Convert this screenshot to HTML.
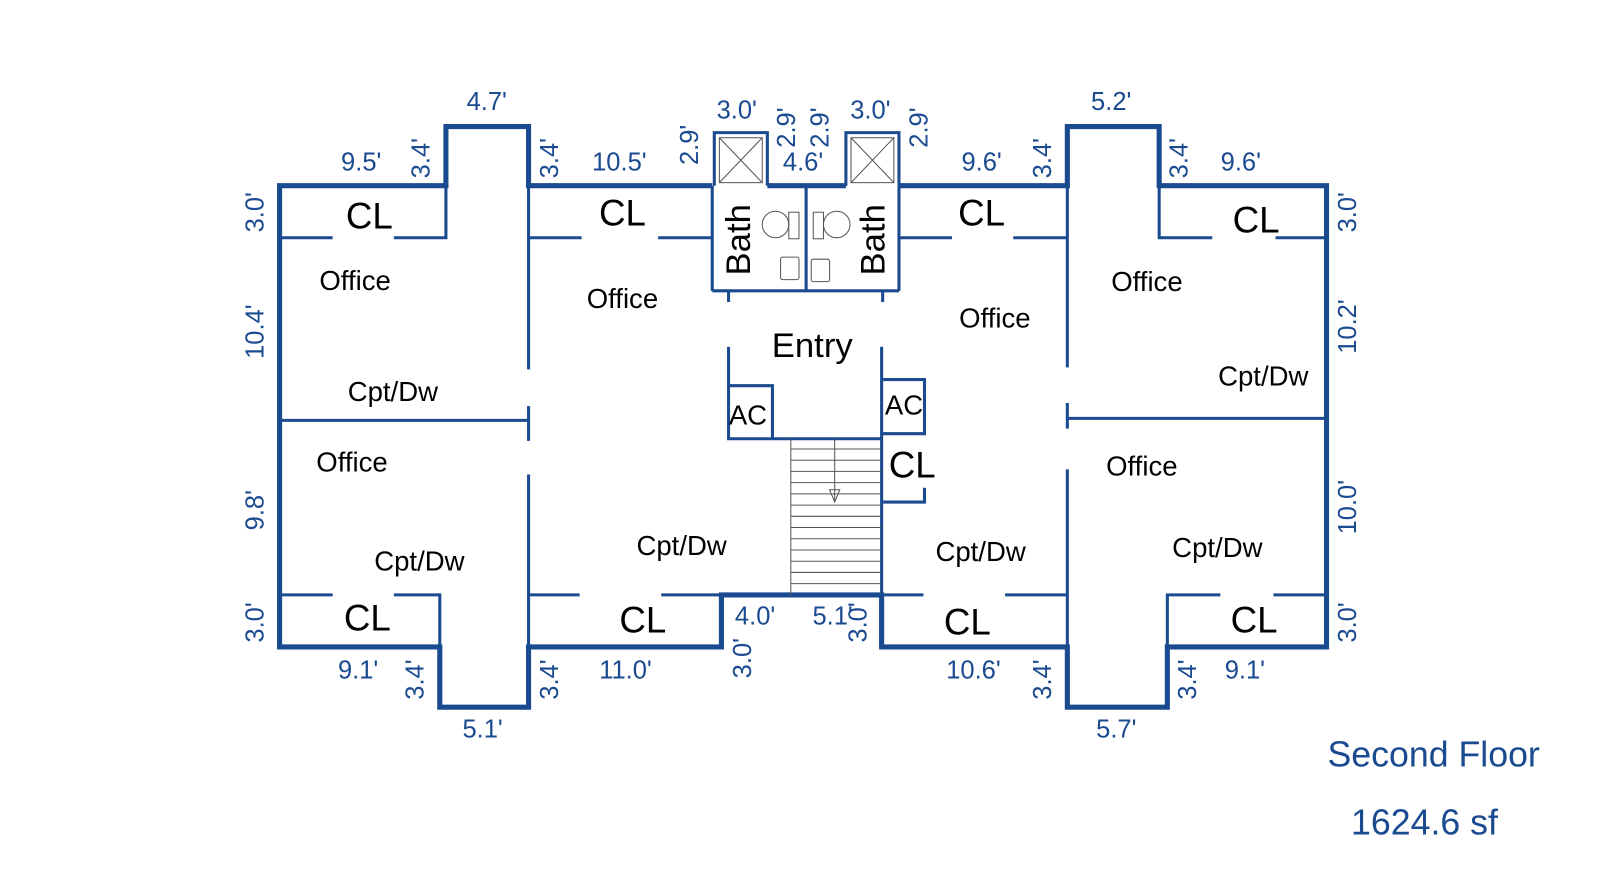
<!DOCTYPE html>
<html><head><style>body{margin:0;background:#fff}svg{display:block}</style></head><body>
<svg width="1600" height="886" viewBox="0 0 1600 886" xmlns="http://www.w3.org/2000/svg" font-family="Liberation Sans, sans-serif">
<g transform="scale(1.0204)">
<g fill="none" stroke="#1a4a8f" stroke-linejoin="miter">
<path stroke-width="5" d="M881,182 H1046 V124 H1136 V182 H1300 V634 H1144 V693 H1046 V634 H864 V583 H707 V634 H518 V693 H431 V634 H274 V182 H437 V124 H518 V182 H698 M752,182 H829"/>
<g stroke-width="3">
<path d="M274,233 H326 M386,233 H437 V182"/>
<path d="M518,182 V362 M518,398 V432 M518,465 V634"/>
<path d="M274,412 H518"/>
<path d="M274,583 H326 M386,583 H431 V634"/>
<path d="M518,233 H570 M645,233 H698"/>
<path d="M518,583 H568 M648,583 H707"/>
<path d="M698,182 V285 M790,182 V285 M881,182 V285 M698,285 H881 M714,285 V296 M865,285 V296"/>
<path d="M714,340 V430 H864 M714,378 H757 V430"/>
<path d="M864,340 V583 M864,372 H906 V425 H864 M864,492 H906 V478"/>
<path d="M881,233 H933 M993,233 H1046"/>
<path d="M1046,182 V360 M1046,395 V420 M1046,460 V634"/>
<path d="M1136,182 V233 H1188 M1250,233 H1300"/>
<path d="M1046,410 H1300"/>
<path d="M864,583 H905 M985,583 H1046"/>
<path d="M1144,634 V583 H1196 M1248,583 H1300"/>
<path d="M700,182 V130 H752 V182 M829,182 V130 H881 V182"/>
</g>
</g>
<g stroke="#555" stroke-width="1" fill="none">
<rect x="705" y="135" width="42" height="44"/><path d="M705,135 L747,179 M747,135 L705,179"/>
<rect x="834" y="135" width="42" height="44"/><path d="M834,135 L876,179 M876,135 L834,179"/>
<circle cx="760" cy="220" r="13"/><rect x="773" y="208" width="10" height="26"/>
<circle cx="820" cy="220" r="13"/><rect x="797" y="208" width="10" height="26"/>
<rect x="765" y="252" width="18" height="22" rx="2"/><rect x="795" y="254" width="18" height="22" rx="2"/>
<path d="M775,430 V583"/>
<path d="M775,440 H864 M775,451 H864 M775,462 H864 M775,473 H864 M775,484 H864 M775,495 H864 M775,506 H864 M775,517 H864 M775,528 H864 M775,539 H864 M775,550 H864 M775,561 H864 M775,572 H864"/>
<path d="M818,430 V492 M813,480 L818,492 L823,480 Z"/>
</g>
<g fill="#000">
<text x="362" y="224" font-size="36" text-anchor="middle">CL</text>
<text x="610" y="221" font-size="36" text-anchor="middle">CL</text>
<text x="962" y="221" font-size="36" text-anchor="middle">CL</text>
<text x="1231" y="228" font-size="36" text-anchor="middle">CL</text>
<text x="360" y="618" font-size="36" text-anchor="middle">CL</text>
<text x="630" y="620" font-size="36" text-anchor="middle">CL</text>
<text x="948" y="622" font-size="36" text-anchor="middle">CL</text>
<text x="1229" y="620" font-size="36" text-anchor="middle">CL</text>
<text x="894" y="468" font-size="36" text-anchor="middle">CL</text>
<text x="348" y="284" font-size="27" text-anchor="middle">Office</text>
<text x="610" y="302" font-size="27" text-anchor="middle">Office</text>
<text x="975" y="321" font-size="27" text-anchor="middle">Office</text>
<text x="1124" y="285" font-size="27" text-anchor="middle">Office</text>
<text x="345" y="462" font-size="27" text-anchor="middle">Office</text>
<text x="1119" y="466" font-size="27" text-anchor="middle">Office</text>
<text x="385" y="393" font-size="27" text-anchor="middle">Cpt/Dw</text>
<text x="411" y="559" font-size="27" text-anchor="middle">Cpt/Dw</text>
<text x="668" y="544" font-size="27" text-anchor="middle">Cpt/Dw</text>
<text x="961" y="550" font-size="27" text-anchor="middle">Cpt/Dw</text>
<text x="1238" y="378" font-size="27" text-anchor="middle">Cpt/Dw</text>
<text x="1193" y="546" font-size="27" text-anchor="middle">Cpt/Dw</text>
<text x="796" y="350" font-size="34" text-anchor="middle">Entry</text>
<text x="733" y="416" font-size="27" text-anchor="middle">AC</text>
<text x="886" y="406" font-size="27" text-anchor="middle">AC</text>
<text transform="translate(735,235) rotate(-90)" font-size="34" text-anchor="middle">Bath</text>
<text transform="translate(867,235) rotate(-90)" font-size="34" text-anchor="middle">Bath</text>
</g>
<g fill="#1a4a8f" font-size="25">
<text x="477" y="108" text-anchor="middle">4.7'</text>
<text x="354" y="167" text-anchor="middle">9.5'</text>
<text x="607" y="167" text-anchor="middle">10.5'</text>
<text x="722" y="116" text-anchor="middle">3.0'</text>
<text x="853" y="116" text-anchor="middle">3.0'</text>
<text x="787" y="167" text-anchor="middle">4.6'</text>
<text x="962" y="167" text-anchor="middle">9.6'</text>
<text x="1089" y="108" text-anchor="middle">5.2'</text>
<text x="1216" y="167" text-anchor="middle">9.6'</text>
<text x="351" y="665" text-anchor="middle">9.1'</text>
<text x="473" y="723" text-anchor="middle">5.1'</text>
<text x="613" y="665" text-anchor="middle">11.0'</text>
<text x="740" y="612" text-anchor="middle">4.0'</text>
<text x="816" y="612" text-anchor="middle">5.1'</text>
<text x="954" y="665" text-anchor="middle">10.6'</text>
<text x="1094" y="723" text-anchor="middle">5.7'</text>
<text x="1220" y="665" text-anchor="middle">9.1'</text>
<g text-anchor="middle">
<text transform="translate(258,208) rotate(-90)">3.0'</text>
<text transform="translate(258,325) rotate(-90)">10.4'</text>
<text transform="translate(258,500) rotate(-90)">9.8'</text>
<text transform="translate(258,610) rotate(-90)">3.0'</text>
<text transform="translate(421,155) rotate(-90)">3.4'</text>
<text transform="translate(547,155) rotate(-90)">3.4'</text>
<text transform="translate(684,142) rotate(-90)">2.9'</text>
<text transform="translate(779,125) rotate(-90)">2.9'</text>
<text transform="translate(812,125) rotate(-90)">2.9'</text>
<text transform="translate(909,125) rotate(-90)">2.9'</text>
<text transform="translate(1030,155) rotate(-90)">3.4'</text>
<text transform="translate(1164,155) rotate(-90)">3.4'</text>
<text transform="translate(1329,208) rotate(-90)">3.0'</text>
<text transform="translate(1329,320) rotate(-90)">10.2'</text>
<text transform="translate(1329,497) rotate(-90)">10.0'</text>
<text transform="translate(1329,610) rotate(-90)">3.0'</text>
<text transform="translate(415,666) rotate(-90)">3.4'</text>
<text transform="translate(547,666) rotate(-90)">3.4'</text>
<text transform="translate(736,645) rotate(-90)">3.0'</text>
<text transform="translate(849,610) rotate(-90)">3.0'</text>
<text transform="translate(1030,666) rotate(-90)">3.4'</text>
<text transform="translate(1172,666) rotate(-90)">3.4'</text>
</g>
<text x="1405" y="751" font-size="35" text-anchor="middle">Second Floor</text>
<text x="1396" y="818" font-size="35" text-anchor="middle">1624.6 sf</text>
</g>
</g>
</svg>
</body></html>
